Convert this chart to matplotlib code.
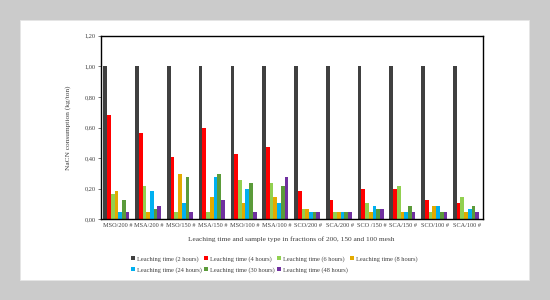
# NaCN consumption vs leaching time, grouped bars per sample/fraction
import matplotlib
matplotlib.use('Agg')
import matplotlib.pyplot as plt
from matplotlib.patches import Rectangle
from matplotlib.ticker import FuncFormatter
import numpy as np

samples = ['MSO/200 #', 'MSA/200 #', 'MSO/150 #', 'MSA/150 #', 'MSO/100 #', 'MSA/100 #',
           'SCO/200 #', 'SCA/200 #', 'SCO /150 #', 'SCA/150 #', 'SCO/100 #', 'SCA/100 #']

series_names = ['Leaching time (2 hours)', 'Leaching time (4 hours)', 'Leaching time (6 hours)',
                'Leaching time (8 hours)', 'Leaching time (24 hours)', 'Leaching time (30 hours)',
                'Leaching time (48 hours)']

t2h = [1.00, 1.00, 1.00, 1.00, 1.00, 1.00, 1.00, 1.00, 1.00, 1.00, 1.00, 1.00]
t4h = [0.68, 0.565, 0.41, 0.60, 0.43, 0.47, 0.185, 0.127, 0.20, 0.20, 0.127, 0.108]
t6h = [0.165, 0.22, 0.048, 0.048, 0.257, 0.24, 0.067, 0.048, 0.107, 0.22, 0.048, 0.145]
t8h = [0.185, 0.048, 0.296, 0.143, 0.107, 0.143, 0.067, 0.048, 0.048, 0.048, 0.089, 0.048]
t24h = [0.048, 0.185, 0.107, 0.276, 0.20, 0.107, 0.048, 0.048, 0.089, 0.048, 0.089, 0.067]
t30h = [0.125, 0.067, 0.276, 0.296, 0.24, 0.22, 0.048, 0.048, 0.067, 0.089, 0.048, 0.089]
t48h = [0.048, 0.089, 0.048, 0.125, 0.048, 0.276, 0.048, 0.048, 0.067, 0.048, 0.048, 0.048]

colors = ['#404040', '#ff0000', '#92d050', '#e3aa00', '#00b0f0', '#5b9b3a', '#7030a0']

series = [t2h, t4h, t6h, t8h, t24h, t30h, t48h]

plt.rcParams['font.family'] = ['Liberation Serif', 'DejaVu Serif']
txt = '#404040'

fig = plt.figure(figsize=(5.5, 3), dpi=100, facecolor='#cbcbcb')
# white card behind everything
card = fig.add_axes([0, 0, 1, 1], zorder=-1)
card.axis('off')
card.set_xlim(0, 550)
card.set_ylim(300, 0)
card.add_patch(Rectangle((20, 20), 509, 260, facecolor='white', edgecolor='#e6e6e6', lw=0.6))

ax = fig.add_axes([0.1845, 0.269, 0.6935, 0.612], zorder=1)
x = np.arange(len(samples))
w = 0.117
bars = []
for i, (vals, name, c) in enumerate(zip(series, series_names, colors)):
    bars.append(ax.bar(x - 3 * w + i * w - 0.03, vals, width=w, color=c, label=name, linewidth=0))

ax.set_xlim(-0.5, len(samples) - 0.5)
ax.set_ylim(0, 1.2)
ax.set_yticks(np.arange(0, 1.21, 0.2))
ax.yaxis.set_major_formatter(FuncFormatter(lambda v, p: ('%.2f' % v).replace('.', ',')))
ax.set_xticks(x)
ax.set_xticklabels(samples)
ax.tick_params(axis='x', length=0, labelsize=4.5, colors=txt, pad=3)
ax.tick_params(axis='y', length=2, width=0.5, labelsize=4.6, colors=txt, pad=2)
for s in ax.spines.values():
    s.set_linewidth(1.0)
    s.set_color('black')

fig.text(68 / 550, 1 - 128 / 300, 'NaCN consumption (kg/ton)', rotation=90,
         ha='center', va='center', fontsize=5.3, color=txt)
fig.text(291 / 550, 1 - 239.5 / 300,
         'Leaching time and sample type in fractions of 200, 150 and 100 mesh',
         ha='center', va='center', fontsize=5.3, color=txt)

# row-wise legend order (matplotlib fills columns first)
order = [0, 4, 1, 5, 2, 6, 3]
fig.legend([bars[i] for i in order], [series_names[i] for i in order],
           loc='center left', bbox_to_anchor=(131 / 550, 1 - 264.5 / 300), ncol=4,
           frameon=False, fontsize=4.6, handlelength=0.6, handleheight=0.6,
           handletextpad=0.3, columnspacing=0.4, labelspacing=0.85,
           borderpad=0, borderaxespad=0, labelcolor=txt)

fig.savefig('out.png', dpi=100, facecolor=fig.get_facecolor())
